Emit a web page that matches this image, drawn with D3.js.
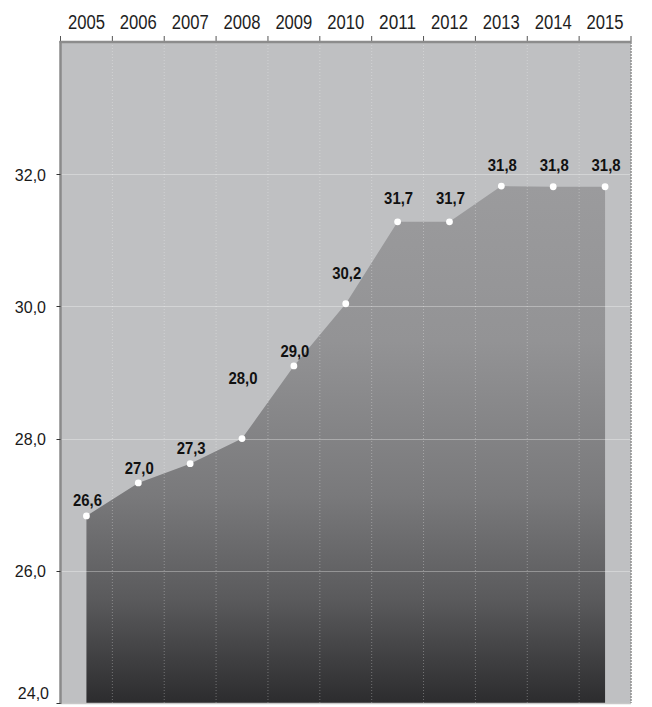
<!DOCTYPE html>
<html>
<head>
<meta charset="utf-8">
<script src="https://cdn.jsdelivr.net/npm/d3@7"></script>
<style>
  body { margin: 0; background: #fff; }
  svg { display: block; }
</style>
</head>
<body>
<script>
const w = 652;
const h = 707;

// data
const years = [2005, 2006, 2007, 2008, 2009, 2010, 2011, 2012, 2013, 2014, 2015];
const values = [26.83, 27.33, 27.62, 28.0, 29.1, 30.04, 31.28, 31.28, 31.82, 31.81, 31.81];
const valueLabels = ["26,6", "27,0", "27,3", "28,0", "29,0", "30,2", "31,7", "31,7", "31,8", "31,8", "31,8"];
const yTicks = [24, 26, 28, 30, 32];

// how far each value label sits above its point (px)
const labelLift = [10, 9, 10, 55, 9, 25, 18, 18, 15, 16, 16];

const plotL = 60.5, plotR = 631, plotT = 42, plotB = 703;

const svg = d3.select("body")
  .append("svg")
  .attr("width", w)
  .attr("height", h);

const x = d3.scaleBand()
  .domain(years)
  .range([plotL, plotR])
  .padding(0);

const y = d3.scaleLinear()
  .domain([24, 34])
  .range([plotB, plotT]);

const fmt = v => d3.format(".1f")(v).replace(".", ",");

const pts = years.map((yr, i) => ({ year: yr, value: values[i], label: valueLabels[i], lift: labelLift[i] }));

// gradient for the area
const defs = svg.append("defs");
const grad = defs.append("linearGradient")
  .attr("id", "areaGrad")
  .attr("gradientUnits", "userSpaceOnUse")
  .attr("x1", 0).attr("x2", 0)
  .attr("y1", y(d3.max(values))).attr("y2", y(24));
[
  [0, "#9b9b9d"],
  [0.3, "#939395"],
  [0.6, "#79797b"],
  [0.8, "#5a5a5c"],
  [1, "#2c2c2e"]
].forEach(s => grad.append("stop").attr("offset", s[0]).attr("stop-color", s[1]));

// plot background
svg.append("rect")
  .attr("x", plotL)
  .attr("y", plotT)
  .attr("width", plotR - plotL)
  .attr("height", plotB - plotT)
  .attr("fill", "#bfc0c2");

// area
const area = d3.area()
  .x(d => x(d.year) + x.bandwidth() / 2)
  .y0(y(24))
  .y1(d => y(d.value));

svg.append("path")
  .datum(pts)
  .attr("d", area)
  .attr("fill", "url(#areaGrad)");

// horizontal grid
svg.append("g")
  .selectAll("line")
  .data(yTicks.filter(t => t > 24))
  .enter()
  .append("line")
  .attr("x1", plotL)
  .attr("x2", plotR)
  .attr("y1", d => Math.round(y(d)) + 0.5)
  .attr("y2", d => Math.round(y(d)) + 0.5)
  .attr("stroke", "#fff")
  .attr("stroke-opacity", 0.32)
  .attr("stroke-width", 1.2);

// vertical dotted grid at band edges
svg.append("g")
  .selectAll("line")
  .data(years.slice(1))
  .enter()
  .append("line")
  .attr("x1", d => x(d))
  .attr("x2", d => x(d))
  .attr("y1", plotT)
  .attr("y2", plotB)
  .attr("stroke", "#fff")
  .attr("stroke-opacity", 0.3)
  .attr("stroke-dasharray", "1,2");

// frame: bottom and right
svg.append("line")
  .attr("x1", plotL).attr("x2", plotR)
  .attr("y1", plotB + 0.5).attr("y2", plotB + 0.5)
  .attr("stroke", "#c8c8c8")
  .attr("stroke-width", 1.5);
svg.append("line")
  .attr("x1", plotR).attr("x2", plotR)
  .attr("y1", plotT).attr("y2", plotB)
  .attr("stroke", "#8e8e8e")
  .attr("stroke-width", 1.5)
  .attr("stroke-dasharray", "2,1");

// top axis: ticks at band edges, labels in band centers
const topAxis = svg.append("g");
topAxis.selectAll("line")
  .data(years.concat([null]))
  .enter()
  .append("line")
  .attr("x1", (d, i) => plotL + i * x.bandwidth())
  .attr("x2", (d, i) => plotL + i * x.bandwidth())
  .attr("y1", plotT - 6)
  .attr("y2", plotT)
  .attr("stroke", "#555")
  .attr("stroke-width", 1);
topAxis.append("line")
  .attr("x1", plotL - 1).attr("x2", plotR)
  .attr("y1", plotT).attr("y2", plotT)
  .attr("stroke", "#8c8c8c")
  .attr("stroke-width", 2.5);
topAxis.selectAll("text")
  .data(years)
  .enter()
  .append("text")
  .attr("x", d => x(d) + x.bandwidth() / 2)
  .attr("y", 29)
  .attr("text-anchor", "middle")
  .attr("font-family", "'Liberation Sans', Arial, sans-serif")
  .attr("font-size", 19.5)
  .attr("textLength", 37)
  .attr("lengthAdjust", "spacingAndGlyphs")
  .attr("fill", "#1e1e1e")
  .text(d => d);

// left axis
const leftAxis = svg.append("g");
leftAxis.append("line")
  .attr("x1", plotL).attr("x2", plotL)
  .attr("y1", plotT - 1).attr("y2", plotB + 1)
  .attr("stroke", "#8a8a8a")
  .attr("stroke-width", 2.5);
leftAxis.selectAll("line.tick")
  .data(yTicks)
  .enter()
  .append("line")
  .attr("class", "tick")
  .attr("x1", plotL - 4)
  .attr("x2", plotL)
  .attr("y1", d => Math.round(y(d)) + 0.5)
  .attr("y2", d => Math.round(y(d)) + 0.5)
  .attr("stroke", "#333");
leftAxis.selectAll("text")
  .data(yTicks)
  .enter()
  .append("text")
  .attr("x", d => d === 24 ? 49 : 46)
  .attr("y", d => Math.min(y(d) + 6.5, 699))
  .attr("text-anchor", "end")
  .attr("font-family", "'Liberation Sans', Arial, sans-serif")
  .attr("font-size", 16)
  .attr("fill", "#1a1a1a")
  .text(d => fmt(d));

// points
svg.append("g")
  .selectAll("circle")
  .data(pts)
  .enter()
  .append("circle")
  .attr("cx", d => x(d.year) + x.bandwidth() / 2)
  .attr("cy", d => y(d.value))
  .attr("r", 3.4)
  .attr("fill", "#fff");

// value labels
svg.append("g")
  .selectAll("text")
  .data(pts)
  .enter()
  .append("text")
  .attr("x", d => x(d.year) + x.bandwidth() / 2 + 1)
  .attr("y", d => y(d.value) - d.lift)
  .attr("text-anchor", "middle")
  .attr("font-family", "'Liberation Sans', Arial, sans-serif")
  .attr("font-weight", "bold")
  .attr("font-size", 16.5)
  .attr("textLength", 29)
  .attr("lengthAdjust", "spacingAndGlyphs")
  .attr("fill", "#111")
  .text(d => d.label);
</script>
</body>
</html>
